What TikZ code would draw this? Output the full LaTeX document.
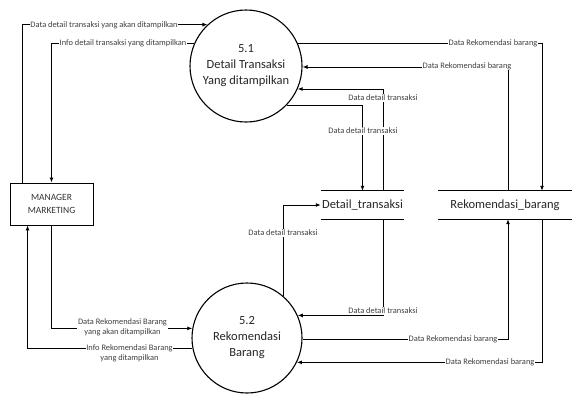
\documentclass[tikz,border=0pt]{standalone}
\usepackage{fontspec}
\setmainfont{Carlito}
\usetikzlibrary{arrows.meta}
\begin{document}
\begin{tikzpicture}[x=1pt,y=-1pt,
  proc/.style={circle,draw,line width=1.1pt,minimum size=#1,inner sep=0pt,align=center,font=\fontsize{12.5}{16}\selectfont,text=black!85},
  ent/.style={draw,line width=0.9pt,minimum width=83pt,minimum height=42pt,align=center,font=\fontsize{9.5}{13}\selectfont,text=black!80,inner sep=0pt},
  store/.style={minimum height=28pt,inner sep=0pt,font=\fontsize{12.5}{14}\selectfont,text=black!85},
  flow/.style={line width=0.9pt,-{Latex[length=5pt,width=4pt]}},
  line/.style={line width=0.9pt},
  lbl/.style={fill=white,inner sep=0.6pt,font=\fontsize{8.4}{9.6}\selectfont,text=black!75,align=center}]
\useasboundingbox (0,0) rectangle (572,394);
% nodes
\node[proc=112pt] (p51) at (246,66) {5.1\\Detail Transaksi\\Yang ditampilkan};
\node[proc=110pt] (p52) at (247,338) {5.2\\Rekomendasi\\Barang};
\node[ent] (mgr) at (51.5,204) {MANAGER\\MARKETING};
\node[store,minimum width=83pt] (dt) at (362.5,205) {Detail\_transaksi};
\node[store,minimum width=134pt] (rb) at (505,205) {Rekomendasi\_barang};
\draw[line] (dt.north west) -- (dt.north east) (dt.south west) -- (dt.south east);
\draw[line] (rb.north west) -- (rb.north east) (rb.south west) -- (rb.south east);
% manager <-> 5.1
\draw[flow] ([xshift=13pt]mgr.north west) |- (p51.133);
\draw[flow] (p51.156) -| (mgr.north);
% manager <-> 5.2
\draw[flow] (mgr.south) |- (p52.170);
\draw[flow] (p52.191) -| ([xshift=18pt]mgr.south west);
% 5.1 <-> stores
\draw[flow] (p51.24) -| ([xshift=37pt]rb.north);
\draw[flow] ([xshift=3pt]rb.north) |- (p51.-1);
\draw[flow] ([xshift=20.5pt]dt.north) |- (p51.-24);
\draw[flow] (p51.-44) -| (dt.north);
% 5.2 <-> stores
\draw[flow] (p52.49) |- (dt.west);
\draw[flow] ([xshift=20.5pt]dt.south) |- (p52.24);
\draw[flow] (p52.-1) -| ([xshift=3pt]rb.south);
\draw[flow] ([xshift=37pt]rb.south) |- (p52.-26);
% labels
\node[lbl] (l1) at (104,25) {Data detail transaksi yang akan ditampilkan};
\node[lbl] (l2) at (123,43) {Info detail transaksi yang ditampilkan};
\node[lbl] (l3) at (493,43) {Data Rekomendasi barang};
\node[lbl] (l4) at (467,66) {Data Rekomendasi barang};
\node[lbl] (l5) at (383,98) {Data detail transaksi};
\node[lbl] (l6) at (363,131) {Data detail transaksi};
\node[lbl] (l7) at (283,233) {Data detail transaksi};
\node[lbl] (l8) at (383,311) {Data detail transaksi};
\node[lbl] (l9) at (122.5,327.5) {Data Rekomendasi Barang\\yang akan ditampilkan};
\node[lbl] (l10) at (129.5,353) {Info Rekomendasi Barang\\yang ditampilkan};
\node[lbl] (l11) at (453,339) {Data Rekomendasi barang};
\node[lbl] (l12) at (490,362) {Data Rekomendasi barang};
\end{tikzpicture}
\end{document}
